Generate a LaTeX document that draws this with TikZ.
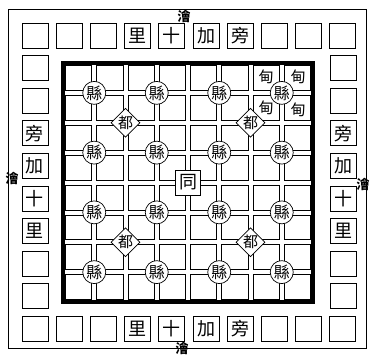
\documentclass[tikz,border=0pt]{standalone}
\usepackage{fontspec}
\newfontfamily\cjk{Noto Sans CJK TC}
\usetikzlibrary{shapes.geometric,positioning}

\begin{document}
\begin{tikzpicture}[x=1pt, y=-1pt,
    plot/.style={draw, line width=0.9pt, minimum width=26pt, minimum height=25pt,
                 inner sep=0pt, font=\cjk\fontsize{18}{18}\selectfont},
    cell/.style={draw, line width=0.7pt},
    xian/.style={draw, circle, fill=white, line width=0.7pt, minimum size=23pt,
                 inner sep=0pt, font=\cjk\fontsize{16}{16}\selectfont},
    du/.style={draw, diamond, fill=white, line width=0.7pt, minimum size=29pt,
               inner sep=0pt, font=\cjk\fontsize{15}{15}\selectfont},
    tong/.style={draw, rectangle, fill=white, line width=0.8pt, minimum size=25pt,
                 inner sep=0pt, font=\cjk\fontsize{18}{18}\selectfont},
    dian/.style={inner sep=0pt, font=\cjk\fontsize{15}{15}\selectfont},
    kuai/.style={inner sep=0pt, font=\cjk\bfseries\fontsize{13}{13}\selectfont}
]
\useasboundingbox (0,0) rectangle (370,356);

% outer frame and its four channels
\draw[line width=0.9pt] (8,9) rectangle (366,348);
\node[kuai] (kt) at (184,16) {澮};
\node[kuai] (kl) at (12,178) {澮};
\node[kuai] (kr) at (363,184) {澮};
\node[kuai] (kb) at (182,348) {澮};

% ring of fields: top and bottom rows
\foreach \i/\t in {0/{},1/{},2/{},3/里,4/十,5/加,6/旁,7/{},8/{},9/{}} {
  \node[plot] (t\i) at (35+34.2*\i, 35.5) {\t};
  \node[plot] (b\i) at (35+34.2*\i, 328.5) {\t};
}
% left and right columns
\foreach \j/\t in {1/{},2/{},3/旁,4/加,5/十,6/里,7/{},8/{}} {
  \node[plot] (l\j) at (35, 35.5+32.6*\j) {\t};
  \node[plot] (r\j) at (343, 35.5+32.6*\j) {\t};
}

% inner fields, roads between them
\foreach \i in {0,...,7}
  \foreach \j in {0,...,7}
    \draw[cell] (65.5+31.25*\i, 65.5+29.875*\j) rectangle ++(26.25,24.875);
\draw[line width=3.5pt] (63,63) rectangle (313,302);

% counties
\foreach \i in {1,3,5,7}
  \foreach \j in {1,3,5,7}
    \node[xian] (x\i\j) at (63+31.25*\i, 63+29.875*\j) {縣};

% capitals
\node[du] (d22) at (125.5,122.75) {都};
\node[du] (d62) at (250.5,122.75) {都};
\node[du] (d26) at (125.5,242.25) {都};
\node[du] (d66) at (250.5,242.25) {都};

% centre
\node[tong] (tg) at (188,182.5) {同};

% domains round the north-east county
\node[dian] (e1) at (266,77) {甸};
\node[dian] (e2) at (298,77) {甸};
\node[dian] (e3) at (266,108) {甸};
\node[dian] (e4) at (298,110) {甸};

\end{tikzpicture}
\end{document}
